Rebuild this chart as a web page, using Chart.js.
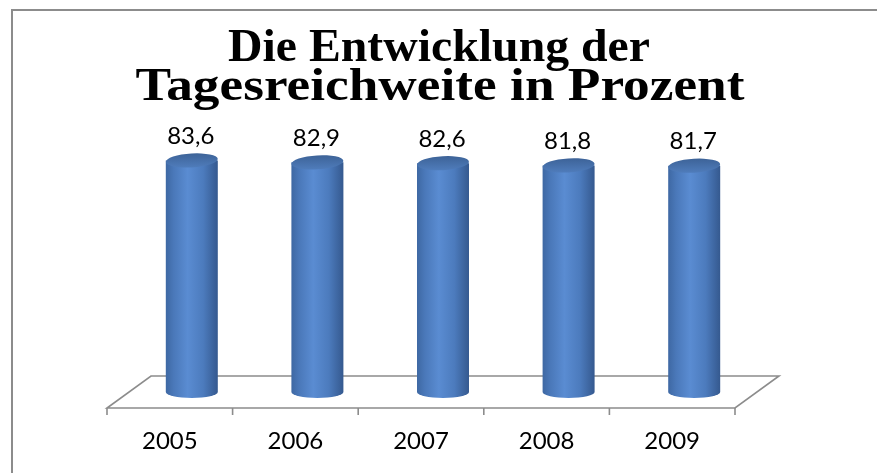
<!DOCTYPE html>
<html><head><meta charset="utf-8">
<script src="https://cdn.jsdelivr.net/npm/chart.js@4/dist/chart.umd.min.js"></script>
<style>html,body{margin:0;padding:0;background:#fff;}#wrap{width:877px;height:473px;position:relative;}</style>
</head><body><div id="wrap"><canvas id="c" width="877" height="473"></canvas></div>
<script>
const categories = ['2005', '2006', '2007', '2008', '2009'];
const values = [83.6, 82.9, 82.6, 81.8, 81.7];
const valueLabels = ['83,6', '82,9', '82,6', '81,8', '81,7'];
const titleLines = ['Die Entwicklung der', 'Tagesreichweite in Prozent'];

const DEPTH_X = 44, DEPTH_Y = -32;

function drawFitted(ctx, text, cx, y, targetW) {
  const w = ctx.measureText(text).width;
  const sx = targetW / w;
  ctx.save();
  ctx.translate(cx, y);
  ctx.scale(sx, 1);
  ctx.fillText(text, 0, 0);
  ctx.restore();
}

const framePlugin = {
  id: 'frame',
  beforeDraw(chart) {
    const ctx = chart.ctx;
    ctx.save();
    ctx.fillStyle = '#fff';
    ctx.fillRect(0, 0, chart.width, chart.height);
    ctx.strokeStyle = '#8c8c8c';
    ctx.lineWidth = 2;
    ctx.beginPath();
    ctx.moveTo(12, chart.height + 5);
    ctx.lineTo(12, 10);
    ctx.lineTo(chart.width + 5, 10);
    ctx.stroke();
    // title
    ctx.fillStyle = '#000';
    ctx.font = 'bold 47px "Liberation Serif"';
    ctx.textAlign = 'center';
    ctx.textBaseline = 'alphabetic';
    drawFitted(ctx, titleLines[0], 439, 61, 422);
    drawFitted(ctx, titleLines[1], 440, 100, 609);
    ctx.restore();
  }
};

const floorPlugin = {
  id: 'floor',
  beforeDatasetsDraw(chart) {
    const ctx = chart.ctx, a = chart.chartArea, xs = chart.scales.x;
    const n = categories.length;
    const step = (a.right - a.left) / n;
    ctx.save();
    ctx.strokeStyle = '#8c8c8c';
    ctx.lineWidth = 1.6;
    ctx.beginPath();
    ctx.moveTo(a.left, a.bottom);
    ctx.lineTo(a.right, a.bottom);
    ctx.lineTo(a.right + DEPTH_X, a.bottom + DEPTH_Y);
    ctx.lineTo(a.left + DEPTH_X, a.bottom + DEPTH_Y);
    ctx.closePath();
    ctx.stroke();
    ctx.beginPath();
    for (let i = 0; i <= n; i++) {
      const px = i < n ? xs.getPixelForTick(i) - step / 2 : xs.getPixelForTick(n - 1) + step / 2;
      ctx.moveTo(px, a.bottom);
      ctx.lineTo(px, a.bottom + 7);
    }
    ctx.stroke();
    ctx.restore();
  }
};

const cylinderPlugin = {
  id: 'cylinders',
  afterDatasetsDraw(chart) {
    const ctx = chart.ctx;
    const meta = chart.getDatasetMeta(0);
    ctx.save();
    meta.data.forEach((bar, i) => {
      const r = bar.width / 2;
      const cx = bar.x + DEPTH_X / 2;
      const topY = bar.y + DEPTH_Y / 2;
      const baseY = bar.base + DEPTH_Y / 2;
      const ryB = 6, ryT = 7;
      const g = ctx.createLinearGradient(cx - r, 0, cx + r, 0);
      g.addColorStop(0, '#3e68a3');
      g.addColorStop(0.15, '#4a78b9');
      g.addColorStop(0.42, '#5a8cd2');
      g.addColorStop(0.72, '#4c7bbd');
      g.addColorStop(1, '#35598f');
      ctx.beginPath();
      ctx.moveTo(cx - r, topY);
      ctx.lineTo(cx - r, baseY);
      ctx.ellipse(cx, baseY, r, ryB, 0, Math.PI, 0, true);
      ctx.lineTo(cx + r, topY);
      ctx.closePath();
      ctx.fillStyle = g;
      ctx.fill();
      // top cap
      const gt = ctx.createLinearGradient(0, topY - ryT, 0, topY + ryT);
      gt.addColorStop(0, '#3d6398');
      gt.addColorStop(1, '#4f7cbb');
      ctx.beginPath();
      ctx.ellipse(cx, topY, r, ryT, -0.06, 0, Math.PI * 2);
      ctx.fillStyle = gt;
      ctx.fill();
      // value label
      ctx.fillStyle = '#000';
      ctx.font = '24px Lato';
      ctx.textAlign = 'center';
      ctx.textBaseline = 'middle';
      ctx.fillText(valueLabels[i], cx - 1, bar.y - 40);
    });
    ctx.restore();
  }
};

new Chart(document.getElementById('c'), {
  type: 'bar',
  data: {
    labels: categories,
    datasets: [{
      data: values,
      backgroundColor: 'rgba(0,0,0,0)',
      borderWidth: 0,
      categoryPercentage: 1,
      barPercentage: 0.414
    }]
  },
  options: {
    responsive: false,
    animation: false,
    devicePixelRatio: 1,
    layout: { padding: { left: 107, right: 142, top: 131, bottom: 17 } },
    plugins: { legend: { display: false }, title: { display: false }, tooltip: { enabled: false } },
    scales: {
      x: {
        grid: { display: false, drawTicks: false },
        border: { display: false },
        ticks: { color: '#000', font: { family: 'Lato', size: 24 }, padding: 19, maxRotation: 0 },
        afterFit(scale) { scale.height = 48; }
      },
      y: { display: false, min: 0, max: 100 }
    }
  },
  plugins: [framePlugin, floorPlugin, cylinderPlugin]
});
</script>
</body></html>
